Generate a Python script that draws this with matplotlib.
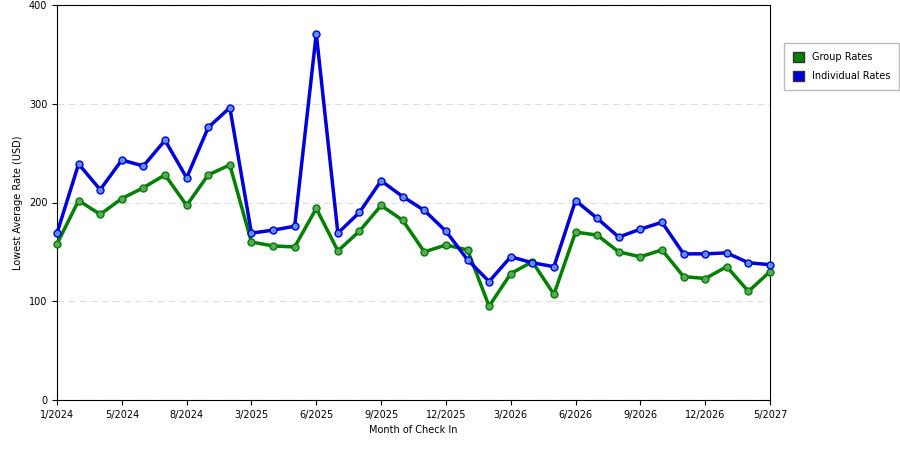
import matplotlib
matplotlib.use("Agg")
import matplotlib.pyplot as plt
from matplotlib.patches import Patch

tick_labels = ["1/2024", "5/2024", "8/2024", "3/2025", "6/2025", "9/2025",
               "12/2025", "3/2026", "6/2026", "9/2026", "12/2026", "5/2027"]
group = [158, 202, 188, 204, 215, 228, 197, 228, 238, 160, 156, 155, 194, 151, 171, 197, 182,
         150, 157, 152, 95, 128, 140, 107, 170, 167, 150, 145, 152, 125, 123, 135, 110, 130]
indiv = [169, 239, 213, 243, 237, 263, 225, 276, 296, 169, 172, 176, 371, 169, 190, 222, 206,
         192, 171, 142, 120, 145, 139, 135, 202, 184, 165, 173, 180, 148, 148, 149, 139, 137]

fig = plt.figure(figsize=(9, 4.5), dpi=100)
ax = fig.add_axes([57 / 900, 50 / 450, 713 / 900, 395 / 450])
x = list(range(len(group)))

ax.plot(x, group, color="#007f00", lw=2.5, marker="o", ms=5,
        mfc="#5fa55f", mec="#007f00", mew=1, zorder=3, clip_on=False)
ax.plot(x, indiv, color="#0000dd", lw=2.5, marker="o", ms=5,
        mfc="#5f8fe0", mec="#0000dd", mew=1, zorder=3, clip_on=False)

ax.set_xlim(0, len(group) - 1)
ax.set_ylim(0, 400)
ax.set_yticks([0, 100, 200, 300, 400])
ax.set_xticks(x[::3])
ax.set_xticklabels(tick_labels)
ax.tick_params(labelsize=7)
ax.yaxis.grid(True, ls=(0, (6, 4)), color="#dddddd", lw=0.8)
ax.set_axisbelow(True)
ax.set_xlabel("Month of Check In", fontsize=7)
ax.set_ylabel("Lowest Average Rate (USD)", fontsize=7)

handles = [Patch(facecolor="#007f00", edgecolor="#333333", label="Group Rates"),
           Patch(facecolor="#0000dd", edgecolor="#333333", label="Individual Rates")]
fig.legend(handles=handles, loc="upper left", bbox_to_anchor=(779 / 900, 1 - 38 / 450),
           fontsize=7, frameon=True, fancybox=False, edgecolor="#aaaaaa",
           handlelength=1.2, handleheight=1.2, labelspacing=0.9,
           borderpad=0.9)

fig.savefig("out.png")
